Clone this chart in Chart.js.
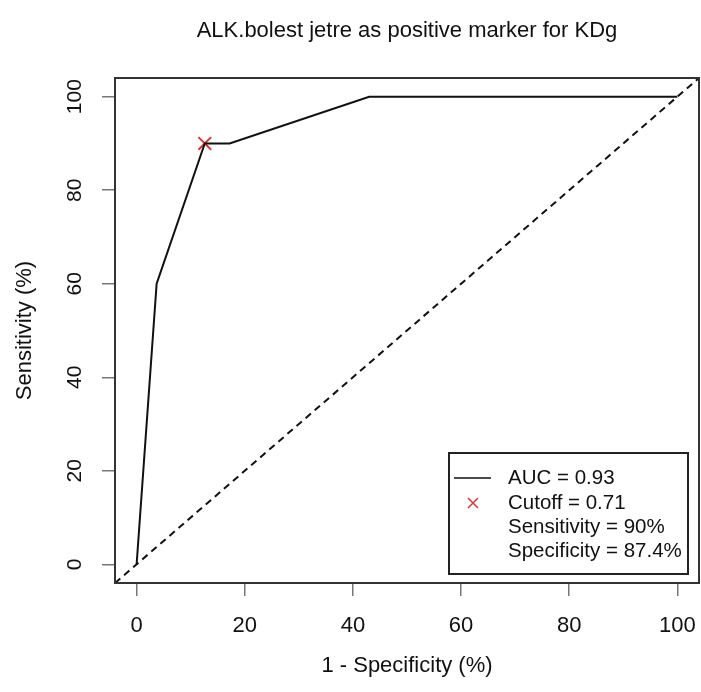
<!DOCTYPE html>
<html>
<head>
<meta charset="utf-8">
<script src="https://cdn.jsdelivr.net/npm/chart.js@4"></script>
<style>
  body { margin: 0; background: #fff; }
  canvas { display: block; }
</style>
</head>
<body>
<canvas id="roc" width="701" height="692"></canvas>
<script>
// ROC curve: ALK.bolest jetre vs KDg

const chartTitle = 'ALK.bolest jetre as positive marker for KDg';
const xTitle = '1 - Specificity (%)';
const yTitle = 'Sensitivity (%)';

// curve points (1 - specificity, sensitivity), in %
const fprValues = [0, 3.7, 12.6, 17.2, 43, 100];
const tprValues = [0, 60, 90, 90, 100, 100];

// optimal cutoff
const cutoffX = [12.6];
const cutoffY = [90];

// chance diagonal, spans the whole plot range
const diagX = [-4, 104];
const diagY = [-4, 104];

const xTicks = [0, 20, 40, 60, 80, 100];
const yTicks = [0, 20, 40, 60, 80, 100];

const legendLines = ['AUC = 0.93', 'Cutoff = 0.71', 'Sensitivity = 90%', 'Specificity = 87.4%'];

const FONT = '"Liberation Sans", Arial, Helvetica, sans-serif';
const RED = '#d23a3a';

const toPoints = (xs, ys) => xs.map((x, i) => ({ x, y: ys[i] }));

// Box, y labels, titles and legend
const decorPlugin = {
  id: 'decor',
  afterDraw(chart) {
    const { ctx, chartArea: a, scales } = chart;
    ctx.save();

    // plot box
    ctx.strokeStyle = '#333';
    ctx.lineWidth = 2;
    ctx.strokeRect(a.left, a.top, a.right - a.left, a.bottom - a.top);

    ctx.fillStyle = '#111';
    ctx.textAlign = 'center';
    ctx.textBaseline = 'middle';

    // title
    ctx.font = `22px ${FONT}`;
    ctx.fillText(chartTitle, (a.left + a.right) / 2, 31);

    // x title
    ctx.font = `22px ${FONT}`;
    ctx.fillText(xTitle, (a.left + a.right) / 2, 666);

    // rotated y tick labels + y title
    ctx.font = `21px ${FONT}`;
    yTicks.forEach(v => {
      const py = scales.y.getPixelForValue(v);
      ctx.save();
      ctx.translate(75, py);
      ctx.rotate(-Math.PI / 2);
      ctx.fillText(String(v), 0, 0);
      ctx.restore();
    });
    ctx.font = `22px ${FONT}`;
    ctx.save();
    ctx.translate(25, (a.top + a.bottom) / 2);
    ctx.rotate(-Math.PI / 2);
    ctx.fillText(yTitle, 0, 0);
    ctx.restore();

    // legend
    const box = { x: 449, y: 453, w: 239, h: 121 };
    ctx.fillStyle = '#fff';
    ctx.fillRect(box.x, box.y, box.w, box.h);
    ctx.strokeStyle = '#222';
    ctx.lineWidth = 2;
    ctx.strokeRect(box.x, box.y, box.w, box.h);

    const rowY = [478, 503, 527, 551];
    ctx.font = `20.5px ${FONT}`;
    ctx.textAlign = 'left';
    ctx.fillStyle = '#111';
    legendLines.forEach((t, i) => ctx.fillText(t, 508, rowY[i]));

    // line sample
    ctx.strokeStyle = '#111';
    ctx.lineWidth = 1.5;
    ctx.beginPath();
    ctx.moveTo(454, rowY[0]);
    ctx.lineTo(491, rowY[0]);
    ctx.stroke();

    // cross sample
    ctx.strokeStyle = RED;
    ctx.lineWidth = 1.5;
    const cx = 473, cy = rowY[1], r = 5;
    ctx.beginPath();
    ctx.moveTo(cx - r, cy - r); ctx.lineTo(cx + r, cy + r);
    ctx.moveTo(cx + r, cy - r); ctx.lineTo(cx - r, cy + r);
    ctx.stroke();

    ctx.restore();
  }
};

new Chart(document.getElementById('roc'), {
  type: 'scatter',
  data: {
    datasets: [
      {
        label: 'ROC',
        data: toPoints(fprValues, tprValues),
        showLine: true,
        borderColor: '#111',
        borderWidth: 2,
        pointRadius: 0,
      },
      {
        label: 'chance',
        data: toPoints(diagX, diagY),
        showLine: true,
        borderColor: '#111',
        borderWidth: 2,
        borderDash: [7, 5],
        pointRadius: 0,
      },
      {
        label: 'cutoff',
        data: toPoints(cutoffX, cutoffY),
        pointStyle: 'crossRot',
        pointRadius: 9,
        borderColor: RED,
        borderWidth: 2,
      },
    ],
  },
  options: {
    responsive: false,
    animation: false,
    layout: { autoPadding: false, padding: { top: 78, right: 2, left: 0, bottom: 0 } },
    plugins: {
      legend: { display: false },
      tooltip: { enabled: false },
    },
    scales: {
      x: {
        type: 'linear',
        min: -4,
        max: 104,
        afterFit: s => { s.height = 109; s.paddingLeft = 0; s.paddingRight = 0; },
        afterBuildTicks: s => { s.ticks = xTicks.map(v => ({ value: v })); },
        border: { display: false },
        grid: { drawOnChartArea: false, drawTicks: true, tickLength: 13, color: '#777', lineWidth: 1.5 },
        ticks: { color: '#111', font: { family: FONT, size: 22 }, padding: 17, maxRotation: 0 },
      },
      y: {
        type: 'linear',
        min: -4,
        max: 104,
        afterFit: s => { s.width = 115; s.paddingTop = 0; s.paddingBottom = 0; },
        afterBuildTicks: s => { s.ticks = yTicks.map(v => ({ value: v })); },
        border: { display: false },
        grid: { drawOnChartArea: false, drawTicks: true, tickLength: 13, color: '#777', lineWidth: 1.5 },
        ticks: { display: false },
      },
    },
  },
  plugins: [decorPlugin],
});
</script>
</body>
</html>
